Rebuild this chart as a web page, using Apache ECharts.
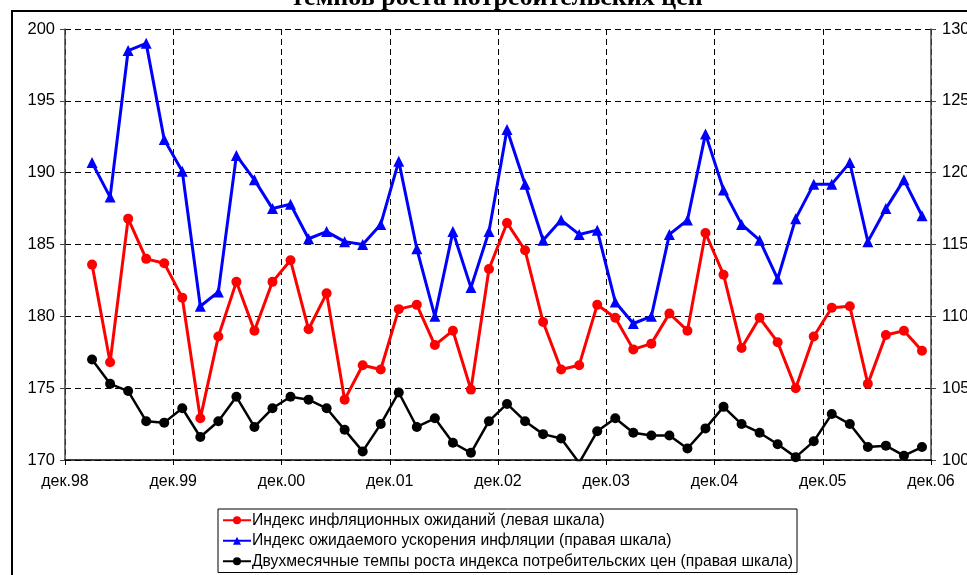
<!DOCTYPE html>
<html>
<head>
<meta charset="utf-8">
<script src="https://cdn.jsdelivr.net/npm/echarts@6/dist/echarts.min.js"></script>
<style>
html, body { margin: 0; padding: 0; background: #fff; }
#chart { width: 967px; height: 575px; }
</style>
</head>
<body>
<div id="chart"></div>
<script>
var xLabels = ['дек.98', 'дек.99', 'дек.00', 'дек.01', 'дек.02', 'дек.03', 'дек.04', 'дек.05', 'дек.06'];

// индекс инфляционных ожиданий (левая шкала)
var expectations = [183.6, 176.8, 186.8, 184.0, 183.7, 181.3, 172.9, 178.6, 182.4, 179.0, 182.4, 183.9, 179.1, 181.6, 174.2,
    176.6, 176.3, 180.5, 180.8, 178.0, 179.0, 174.9, 183.3, 186.5, 184.6, 179.6, 176.3, 176.6, 180.8, 179.9, 177.7,
    178.1, 180.2, 179.0, 185.8, 182.9, 177.8, 179.9, 178.2, 175.0, 178.6, 180.6, 180.7, 175.3, 178.7, 179.0, 177.6];

// индекс ожидаемого ускорения инфляции (правая шкала)
var acceleration = [120.7, 118.3, 128.5, 129.0, 122.3, 120.1, 110.7, 111.7, 121.2, 119.5, 117.5, 117.8, 115.4, 115.9, 115.2,
    115.0, 116.4, 120.8, 114.7, 110.0, 115.9, 112.0, 115.9, 123.0, 119.2, 115.3, 116.7, 115.7, 116.0, 111.0, 109.5,
    110.0, 115.7, 116.7, 122.7, 118.8, 116.4, 115.3, 112.6, 116.8, 119.2, 119.2, 120.7, 115.2, 117.5, 119.5, 117.0];

// двухмесячные темпы роста ИПЦ (правая шкала)
var cpiGrowth = [107.0, 105.3, 104.8, 102.7, 102.6, 103.6, 101.6, 102.7, 104.4, 102.3, 103.6, 104.4, 104.2, 103.6, 102.1,
    100.6, 102.5, 104.7, 102.3, 102.9, 101.2, 100.5, 102.7, 103.9, 102.7, 101.8, 101.5, 99.8, 102.0, 102.9, 101.9,
    101.7, 101.7, 100.8, 102.2, 103.7, 102.5, 101.9, 101.1, 100.2, 101.3, 103.2, 102.5, 100.9, 101.0, 100.3, 100.9];

// точки через два месяца, первая - в марте 99 (месяцы от дек.98)
function withMonths(arr) {
    var out = [];
    for (var i = 0; i < arr.length; i++) {
        out.push([3 + 2 * i, arr[i]]);
    }
    return out;
}

var chart = echarts.init(document.getElementById('chart'));
var font = 'Liberation Sans, Arial, sans-serif';
var dash = { color: '#000', width: 1, type: [6, 4] };

var option = {
    animation: false,
    textStyle: { fontFamily: font },
    graphic: [
        {
            type: 'rect',
            shape: { x: 12, y: 11, width: 1000, height: 620 },
            style: { fill: 'none', stroke: '#000', lineWidth: 2 },
            z: -1
        },
        {
            type: 'text',
            x: 497,
            y: 11,
            style: {
                text: 'темпов роста потребительских цен',
                font: 'bold 26px "Liberation Serif", "Times New Roman", serif',
                fill: '#000',
                align: 'center',
                verticalAlign: 'bottom'
            }
        }
    ],
    grid: { left: 65, right: 36, top: 29, bottom: 115, outerBoundsMode: 'none' },
    legend: {
        orient: 'vertical',
        left: 218,
        top: 509,
        itemWidth: 28,
        itemHeight: 10,
        itemGap: 4,
        padding: [3, 4, 3, 4],
        borderColor: '#000',
        borderWidth: 1,
        backgroundColor: '#fff',
        textStyle: { fontFamily: font, fontSize: 15.7, lineHeight: 16.5, color: '#000', padding: [0, 0, 0, -4] },
        data: [
            'Индекс инфляционных ожиданий (левая шкала)',
            'Индекс ожидаемого ускорения инфляции (правая шкала)',
            'Двухмесячные темпы роста индекса потребительских цен (правая шкала)'
        ]
    },
    xAxis: {
        type: 'value',
        min: 0,
        max: 96,
        interval: 12,
        axisLine: { lineStyle: { color: '#000', width: 1.5 } },
        axisTick: { show: true, length: 5, lineStyle: { color: '#000' } },
        axisLabel: {
            color: '#000',
            fontSize: 16,
            margin: 14,
            formatter: function (v) { return xLabels[v / 12]; }
        },
        splitLine: { show: true, lineStyle: dash }
    },
    yAxis: [
        {
            type: 'value',
            min: 170,
            max: 200,
            interval: 5,
            axisLine: { show: true, lineStyle: { color: '#444', width: 1.5 } },
            axisTick: { show: true, length: 5, lineStyle: { color: '#444' } },
            axisLabel: { color: '#000', fontSize: 16.5, margin: 10 },
            splitLine: { show: true, lineStyle: dash }
        },
        {
            type: 'value',
            min: 100,
            max: 130,
            interval: 5,
            position: 'right',
            axisLine: { show: true, lineStyle: { color: '#444', width: 1.5 } },
            axisTick: { show: true, length: 5, lineStyle: { color: '#444' } },
            axisLabel: { color: '#000', fontSize: 16.5, margin: 11 },
            splitLine: { show: false }
        }
    ],
    series: [
        {
            name: 'Индекс инфляционных ожиданий (левая шкала)',
            type: 'line',
            yAxisIndex: 0,
            data: withMonths(expectations),
            symbol: 'circle',
            symbolSize: 10,
            itemStyle: { color: '#ff0000' },
            lineStyle: { color: '#ff0000', width: 3 },
            z: 3
        },
        {
            name: 'Индекс ожидаемого ускорения инфляции (правая шкала)',
            type: 'line',
            yAxisIndex: 1,
            data: withMonths(acceleration),
            symbol: 'triangle',
            symbolSize: 11,
            itemStyle: { color: '#0000ff' },
            lineStyle: { color: '#0000ff', width: 3 },
            z: 2
        },
        {
            name: 'Двухмесячные темпы роста индекса потребительских цен (правая шкала)',
            type: 'line',
            yAxisIndex: 1,
            data: withMonths(cpiGrowth),
            symbol: 'circle',
            symbolSize: 10,
            itemStyle: { color: '#000' },
            lineStyle: { color: '#000', width: 2.5 },
            z: 4
        }
    ]
};
chart.setOption(option);
</script>
</body>
</html>
